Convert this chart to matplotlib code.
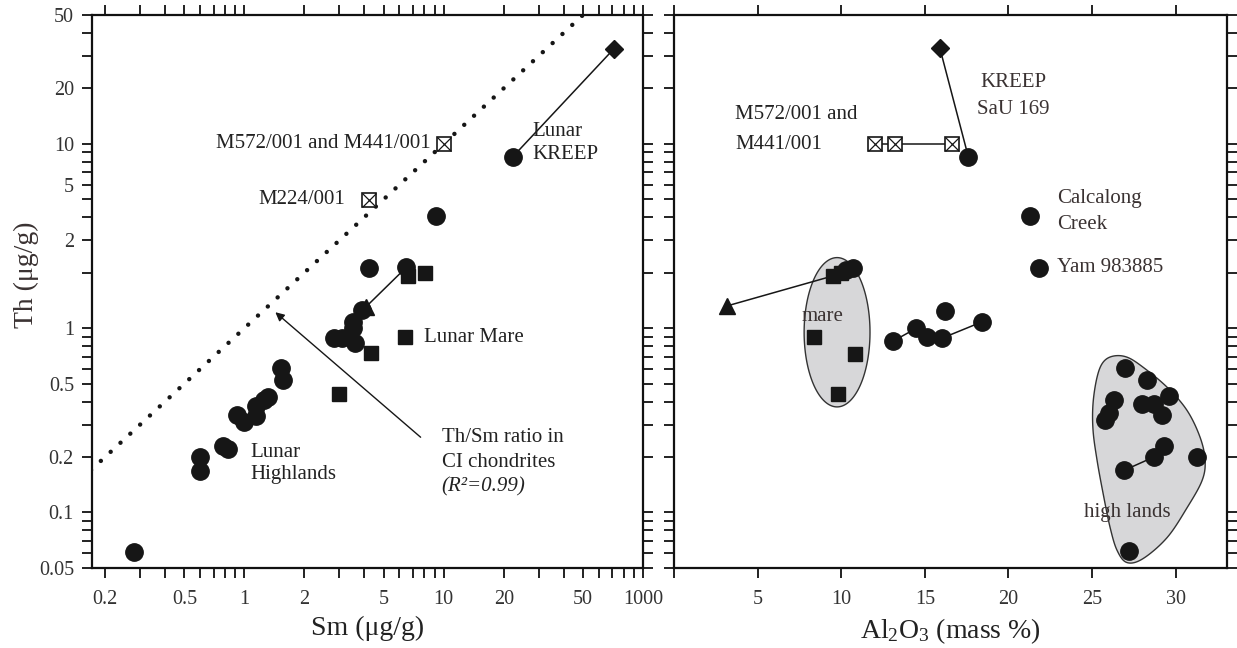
import numpy as np
import matplotlib
matplotlib.use("Agg")
import matplotlib.pyplot as plt

plt.rcParams['font.family'] = ['Liberation Serif', 'DejaVu Serif']
plt.rcParams['mathtext.fontset'] = 'custom'
plt.rcParams['mathtext.rm'] = 'Liberation Serif'
plt.rcParams['mathtext.it'] = 'Liberation Serif:italic'

# --- left panel data: Th vs Sm (ug/g) ---
l_circ_sm = [0.28, 0.6, 0.6, 0.78, 0.83, 0.92, 1.0, 1.15, 1.15, 1.25, 1.31, 1.52, 1.57,
             2.8, 3.1, 3.5, 3.5, 3.6, 3.9, 4.2, 6.5, 9.1, 22.2]
l_circ_th = [0.061, 0.2, 0.167, 0.229, 0.22, 0.337, 0.308, 0.377, 0.333, 0.41, 0.422, 0.607, 0.52,
             0.88, 0.88, 1.0, 1.08, 0.83, 1.25, 2.12, 2.14, 4.06, 8.5]
l_sq_sm = [2.97, 4.3, 6.4, 6.6, 8.1]
l_sq_th = [0.44, 0.73, 0.89, 1.92, 2.0]
l_tri_sm, l_tri_th = [4.06], [1.3]
l_dia_sm, l_dia_th = [71.5], [32.8]
l_xsq_sm = [4.2, 10.0]
l_xsq_th = [4.96, 10.0]
l_links = [([6.5, 4.06], [2.14, 1.3]), ([22.2, 71.5], [8.5, 32.8])]
ci_sm = [0.17, 50]
ci_th = [0.17, 50]

# --- right panel data: Th vs Al2O3 (mass %) ---
r_circ_al = [10.3, 10.7, 13.1, 14.5, 15.1, 16.0, 16.2, 18.4, 17.6, 21.3, 21.8,
             27.0, 28.3, 26.3, 26.0, 25.8, 28.0, 28.7, 29.2, 29.6, 29.3, 28.7, 26.9, 31.3, 27.2]
r_circ_th = [2.07, 2.12, 0.85, 1.0, 0.89, 0.88, 1.24, 1.08, 8.5, 4.06, 2.12,
             0.606, 0.52, 0.41, 0.345, 0.316, 0.39, 0.39, 0.337, 0.43, 0.229, 0.2, 0.169, 0.2, 0.062]
r_sq_al = [9.5, 10.0, 8.37, 10.8, 9.8]
r_sq_th = [1.92, 2.0, 0.90, 0.72, 0.44]
r_tri_al, r_tri_th = [3.17], [1.32]
r_dia_al, r_dia_th = [15.9], [33.0]
r_xsq_al = [12.0, 13.2, 16.6]
r_xsq_th = [10.0, 10.0, 10.0]
r_links = [([3.17, 9.5], [1.32, 1.92]),
           ([15.9, 17.6], [33.0, 8.5]),
           ([12.0, 16.6], [10.0, 10.0]),
           ([13.1, 14.5, 15.1, 16.0, 18.4], [0.85, 1.0, 0.89, 0.88, 1.08]),
           ([26.9, 28.7, 29.3], [0.169, 0.2, 0.229])]

# outline of the grey "high lands" field
hl_field_al = [26.26, 25.66, 25.30, 25.06, 25.06, 25.30, 25.66, 26.08, 26.50, 27.09,
               28.05, 29.49, 30.68, 31.58, 31.76, 31.46, 30.68, 29.49, 28.05, 27.09]
hl_field_th = [0.705, 0.653, 0.542, 0.391, 0.279, 0.192, 0.127, 0.0829, 0.0622, 0.0535,
               0.0562, 0.0731, 0.106, 0.149, 0.192, 0.256, 0.358, 0.478, 0.614, 0.696]
# "mare" field: centre, half width (mass %), half height (decades)
mare_c = (9.75, 0.95)
mare_a, mare_b = 1.97, 0.405

# ticks
y_ticks = [0.05, 0.1, 0.2, 0.5, 1, 3, 6, 10, 20, 50]
y_labels = ['0.05', '0.1', '0.2', '0.5', '1', '2', '5', '10', '20', '50']
lx_ticks = [0.2, 0.5, 1, 2, 5, 10, 20, 50, 100]
lx_labels = ['0.2', '0.5', '1', '2', '5', '10', '20', '50', '1000']
rx_ticks = [0, 5, 10, 15, 20, 25, 30]
rx_labels = ['', '5', '10', '15', '20', '25', '30']

ink = '#161616'
txt = '#222222'
txt2 = '#3a3232'


def smooth_closed(x, y, n=12):
    # Catmull-Rom through the outline points, in (x, log y) space
    px = np.array(x, float)
    py = np.log10(np.array(y, float))
    m = len(px)
    ox, oy = [], []
    for i in range(m):
        p0, p1, p2, p3 = [(px[(i + k) % m], py[(i + k) % m]) for k in (-1, 0, 1, 2)]
        for t in np.linspace(0, 1, n, endpoint=False):
            t2, t3 = t * t, t * t * t
            for d, out in ((0, ox), (1, oy)):
                out.append(0.5 * ((2 * p1[d]) + (-p0[d] + p2[d]) * t +
                                  (2 * p0[d] - 5 * p1[d] + 4 * p2[d] - p3[d]) * t2 +
                                  (-p0[d] + 3 * p1[d] - 3 * p2[d] + p3[d]) * t3))
    return np.array(ox), 10 ** np.array(oy)


def markers(ax, cx, cy, sx, sy, tx, ty, dx, dy, xx, xy):
    ax.plot(cx, cy, 'o', ms=12.5, color=ink, mec=ink, zorder=4)
    ax.plot(sx, sy, 's', ms=10, color=ink, mec=ink, zorder=4)
    ax.plot(tx, ty, '^', ms=12, color=ink, mec=ink, zorder=4)
    ax.plot(dx, dy, 'D', ms=9.5, color=ink, mec=ink, zorder=4)
    ax.plot(xx, xy, 's', ms=9.5, mfc='white', mec=ink, mew=1.2, zorder=5)
    ax.plot(xx, xy, 'x', ms=9.5, color=ink, mew=0.9, zorder=6)


def style(ax):
    for s in ax.spines.values():
        s.set_linewidth(1.6)
        s.set_color('#111111')
    ax.tick_params(which='both', direction='out', length=7, width=1.3,
                   top=True, right=True, colors='#111111', labelcolor='#333333',
                   labelsize=14.5)
    ax.tick_params(axis='x', which='both', pad=9)
    ax.tick_params(axis='y', which='both', pad=6)


fig = plt.figure(figsize=(12.37, 6.48), dpi=100)
ax1 = fig.add_axes([0.0744, 0.1235, 0.4454, 0.8534])
ax2 = fig.add_axes([0.5449, 0.1235, 0.4470, 0.8534])

# ---------------- left panel ----------------
ax1.set_xscale('log')
ax1.set_yscale('log')
ax1.set_xlim(0.172, 100)
ax1.set_ylim(0.05, 50)
ax1.plot(ci_sm, ci_th, color=ink, lw=3.2, linestyle=(0, (0.01, 3.0)),
         dash_capstyle='round', zorder=3)
for lx, ly in l_links:
    ax1.plot(lx, ly, color=ink, lw=1.1, zorder=2)
markers(ax1, l_circ_sm, l_circ_th, l_sq_sm, l_sq_th, l_tri_sm, l_tri_th,
        l_dia_sm, l_dia_th, l_xsq_sm, l_xsq_th)

ax1.annotate('', xy=(1.43, 1.22), xytext=(7.66, 0.256),
             arrowprops=dict(arrowstyle='-|>', color=ink, lw=1.0,
                             mutation_scale=13, shrinkA=0, shrinkB=0))

fs = 15
ax1.text(8.6, 10.0, 'M572/001 and M441/001', fontsize=fs, color=txt, ha='right', va='center')
ax1.text(3.22, 4.96, 'M224/001', fontsize=fs, color=txt, ha='right', va='center')
ax1.text(27.7, 10.1, 'Lunar\nKREEP', fontsize=fs, color=txt, ha='left', va='center', linespacing=1.3)
ax1.text(7.94, 0.89, 'Lunar Mare', fontsize=fs, color=txt, ha='left', va='center')
ax1.text(9.77, 0.256, 'Th/Sm ratio in', fontsize=fs, color=txt, ha='left', va='center')
ax1.text(9.77, 0.187, 'CI chondrites', fontsize=fs, color=txt, ha='left', va='center')
ax1.text(9.77, 0.137, '(R²=0.99)', fontsize=fs, color=txt, ha='left', va='center', style='italic')
ax1.text(1.07, 0.185, 'Lunar\nHighlands', fontsize=fs, color=txt, ha='left', va='center', linespacing=1.2)

ax1.set_xticks(lx_ticks, lx_labels)
ax1.set_yticks(y_ticks, y_labels)
ax1.xaxis.set_minor_locator(matplotlib.ticker.LogLocator(subs=np.arange(2, 10)))
ax1.yaxis.set_minor_locator(matplotlib.ticker.LogLocator(subs=np.arange(2, 10)))
ax1.xaxis.set_minor_formatter(matplotlib.ticker.NullFormatter())
ax1.yaxis.set_minor_formatter(matplotlib.ticker.NullFormatter())
style(ax1)
ax1.set_xlabel('Sm (μg/g)', fontsize=20, color=txt, labelpad=5)
ax1.set_ylabel('Th (μg/g)', fontsize=20, color=txt2)
ax1.yaxis.set_label_coords(-0.097, 0.53)

# ---------------- right panel ----------------
ax2.set_yscale('log')
ax2.set_xlim(0, 33.07)
ax2.set_ylim(0.05, 50)

t = np.linspace(0, 2 * np.pi, 200)
ax2.fill(mare_c[0] + mare_a * np.cos(t), mare_c[1] * 10 ** (mare_b * np.sin(t)),
         facecolor='#d7d7d9', edgecolor='#333333', lw=1.0, zorder=1)
fx, fy = smooth_closed(hl_field_al, hl_field_th)
ax2.fill(fx, fy, facecolor='#d7d7d9', edgecolor='#333333', lw=1.0, zorder=1)

for lx, ly in r_links:
    ax2.plot(lx, ly, color=ink, lw=1.1, zorder=2)
markers(ax2, r_circ_al, r_circ_th, r_sq_al, r_sq_th, r_tri_al, r_tri_th,
        r_dia_al, r_dia_th, r_xsq_al, r_xsq_th)

ax2.text(3.65, 14.4, 'M572/001 and', fontsize=fs, color=txt, ha='left', va='center')
ax2.text(3.65, 9.9, 'M441/001', fontsize=fs, color=txt, ha='left', va='center')
ax2.text(20.3, 21.5, 'KREEP', fontsize=fs, color=txt2, ha='center', va='center')
ax2.text(20.3, 15.3, 'SaU 169', fontsize=fs, color=txt2, ha='center', va='center')
ax2.text(22.9, 5.02, 'Calcalong', fontsize=fs, color=txt2, ha='left', va='center')
ax2.text(22.9, 3.67, 'Creek', fontsize=fs, color=txt2, ha='left', va='center')
ax2.text(22.9, 2.12, 'Yam 983885', fontsize=fs, color=txt2, ha='left', va='center')
ax2.text(7.6, 1.16, 'mare', fontsize=fs, color=txt2, ha='left', va='center', zorder=3)
ax2.text(24.5, 0.1, 'high lands', fontsize=fs, color=txt2, ha='left', va='center', zorder=3)

ax2.set_xticks(rx_ticks, rx_labels)
ax2.set_yticks(y_ticks, [])
ax2.yaxis.set_minor_locator(matplotlib.ticker.LogLocator(subs=np.arange(2, 10)))
ax2.yaxis.set_minor_formatter(matplotlib.ticker.NullFormatter())
style(ax2)
ax2.tick_params(axis='y', which='both', labelleft=False, labelright=False)
ax2.set_xlabel('Al$_2$O$_3$ (mass %)', fontsize=20, color=txt, labelpad=5)

fig.savefig('out.png', dpi=100)
